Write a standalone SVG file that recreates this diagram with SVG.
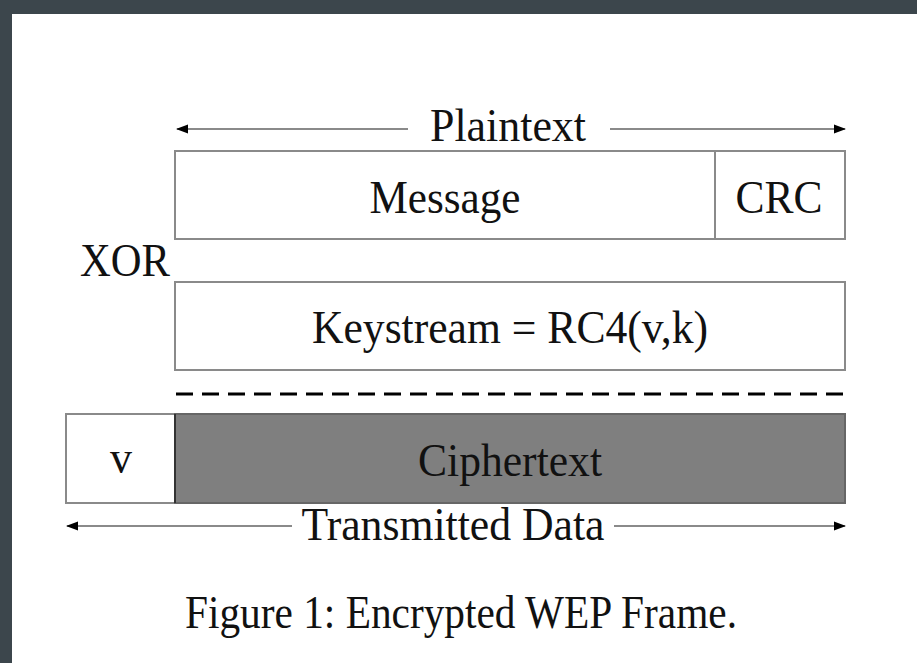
<svg xmlns="http://www.w3.org/2000/svg" width="917" height="663" viewBox="0 0 917 663">
  <style>
    .box { fill: #ffffff; stroke: #8a8a8a; stroke-width: 2; }
    .cipher { fill: #7f7f7f; stroke: #666666; stroke-width: 2; }
    .dim { stroke: #8a8a8a; stroke-width: 2; fill: none; }
    .lbl { font-family: "Liberation Serif", "Times New Roman", serif; font-size: 46px; fill: #111111; }
    .mid { text-anchor: middle; }
  </style>
  <defs>
    <marker id="head" viewBox="0 0 12 12" refX="11" refY="6" markerWidth="12" markerHeight="12" markerUnits="userSpaceOnUse" orient="auto-start-reverse">
      <path d="M0,1.5 L12,6 L0,10.5 Z" fill="#000000"/>
    </marker>
  </defs>

  <!-- frame -->
  <rect x="0" y="0" width="917" height="663" fill="#3c464c"/>
  <rect x="12" y="14" width="905" height="649" fill="#ffffff"/>

  <!-- dimension lines and separators -->
  <g id="connectors">
    <line class="dim" x1="177" y1="129" x2="408" y2="129" marker-start="url(#head)"/>
    <line class="dim" x1="610" y1="129" x2="845" y2="129" marker-end="url(#head)"/>
    <line x1="176" y1="394" x2="846" y2="394" stroke="#000000" stroke-width="3" stroke-dasharray="17 9"/>
    <line class="dim" x1="67" y1="526" x2="292" y2="526" marker-start="url(#head)"/>
    <line class="dim" x1="614" y1="526" x2="845" y2="526" marker-end="url(#head)"/>
  </g>

  <g id="plaintext-label">
    <text class="lbl mid" x="508" y="141" textLength="156" lengthAdjust="spacingAndGlyphs">Plaintext</text>
  </g>

  <g id="message">
    <rect class="box" x="175" y="151" width="540" height="88"/>
    <text class="lbl mid" x="445" y="213" textLength="151" lengthAdjust="spacingAndGlyphs">Message</text>
  </g>

  <g id="crc">
    <rect class="box" x="715" y="151" width="130" height="88"/>
    <text class="lbl mid" x="779" y="213" textLength="87" lengthAdjust="spacingAndGlyphs">CRC</text>
  </g>

  <g id="xor">
    <text class="lbl" x="80" y="276" textLength="90" lengthAdjust="spacingAndGlyphs">XOR</text>
  </g>

  <g id="keystream">
    <rect class="box" x="175" y="282" width="670" height="88"/>
    <text class="lbl mid" x="510" y="343" textLength="396" lengthAdjust="spacingAndGlyphs">Keystream = RC4(v,k)</text>
  </g>

  <g id="iv">
    <rect class="box" x="66" y="414" width="109" height="89"/>
    <text class="lbl mid" x="121" y="473" textLength="22" lengthAdjust="spacingAndGlyphs">v</text>
  </g>

  <g id="ciphertext">
    <rect class="cipher" x="175" y="414" width="670" height="89"/>
    <line x1="175" y1="414" x2="175" y2="503" stroke="#333333" stroke-width="2"/>
    <text class="lbl mid" x="510" y="476" textLength="184" lengthAdjust="spacingAndGlyphs">Ciphertext</text>
  </g>

  <g id="transmitted-label">
    <text class="lbl mid" x="453" y="540" textLength="303" lengthAdjust="spacingAndGlyphs">Transmitted Data</text>
  </g>

  <g id="caption">
    <text class="lbl mid" x="461" y="628" font-size="42" fill="#2a2a2a" textLength="552" lengthAdjust="spacingAndGlyphs">Figure 1: Encrypted WEP Frame.</text>
  </g>
</svg>
